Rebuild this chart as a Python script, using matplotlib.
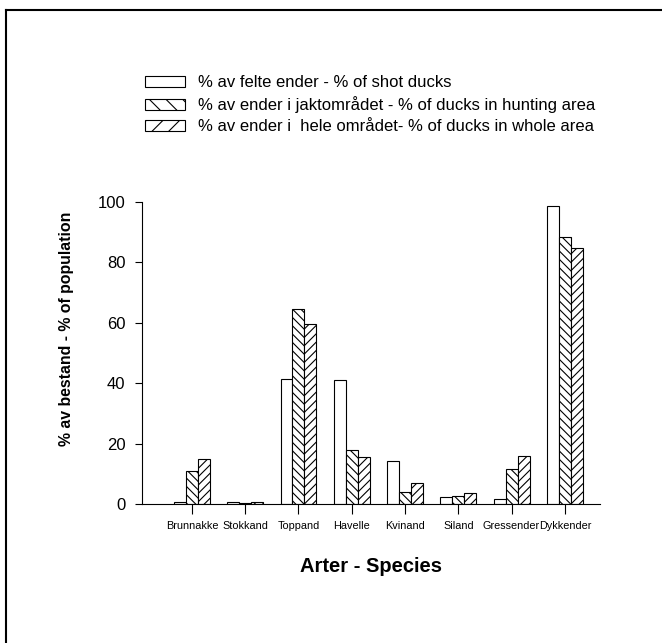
import numpy as np
import matplotlib.pyplot as plt
from matplotlib.lines import Line2D
from matplotlib.patches import Patch

plt.rcParams["font.family"] = ["Liberation Sans", "DejaVu Sans"]
plt.rcParams["hatch.linewidth"] = 0.8

species = ["Brunnakke", "Stokkand", "Toppand", "Havelle",
           "Kvinand", "Siland", "Gressender", "Dykkender"]
shot = [0.8, 0.8, 41.5, 41.0, 14.3, 2.2, 1.8, 98.8]
hunting_area = [10.8, 0.3, 64.5, 18.0, 4.1, 2.5, 11.7, 88.5]
whole_area = [14.9, 0.5, 59.5, 15.5, 6.9, 3.8, 15.8, 84.8]

labels = [
    "% av felte ender - % of shot ducks",
    "% av ender i jaktområdet - % of ducks in hunting area",
    "% av ender i  hele området- % of ducks in whole area",
]

fig = plt.figure(figsize=(6.62, 6.43), dpi=100)
ax = fig.add_axes([0.2145, 0.2162, 0.6918, 0.4697])

x = np.arange(1, len(species) + 1)
w = 0.225
ax.bar(x - w, shot, w, facecolor="white", edgecolor="black", linewidth=0.8)
ax.bar(x, hunting_area, w, facecolor="white", edgecolor="black", linewidth=0.8,
       hatch="\\\\\\\\")
ax.bar(x + w, whole_area, w, facecolor="white", edgecolor="black", linewidth=0.8,
       hatch="////")

ax.set_xlim(0.062, 8.66)
ax.set_ylim(0, 100)
ax.set_yticks([0, 20, 40, 60, 80, 100])
ax.set_xticks(x)
ax.set_xticklabels(species, fontsize=7.8)
ax.tick_params(axis="y", labelsize=12, length=5, pad=7, width=0.8)
ax.tick_params(axis="x", length=7, pad=5, width=0.8)

for s in ["top", "right"]:
    ax.spines[s].set_visible(False)
ax.spines["left"].set_linewidth(0.8)
ax.spines["bottom"].set_linewidth(0.8)

ax.set_ylabel("% av bestand - % of population", fontsize=11.4, fontweight="bold")
ax.yaxis.set_label_coords(-0.148, 0.58)
ax.set_xlabel("Arter - Species", fontsize=14.5, fontweight="bold")
ax.xaxis.set_label_coords(0.5, -0.175)

# legend keys with the sparser hatch seen in the original
handles = [
    Patch(facecolor="white", edgecolor="black", linewidth=0.8),
    Patch(facecolor="white", edgecolor="black", linewidth=0.8, hatch="\\\\"),
    Patch(facecolor="white", edgecolor="black", linewidth=0.8, hatch="//"),
]
fig.legend(handles=handles, labels=labels, loc="upper left",
           bbox_to_anchor=(0.219, 0.883), frameon=False, fontsize=12,
           borderpad=0, borderaxespad=0, handlelength=2.4, handleheight=0.6,
           labelspacing=0.36, handletextpad=0.78)

# frame around the page (only top and left edges visible)
fig.add_artist(Line2D([6 / 662, 1.0], [1 - 10 / 643, 1 - 10 / 643], color="black", lw=1.5))
fig.add_artist(Line2D([6 / 662, 6 / 662], [0.0, 1 - 10 / 643], color="black", lw=1.5))

fig.savefig("out.png", dpi=100)
